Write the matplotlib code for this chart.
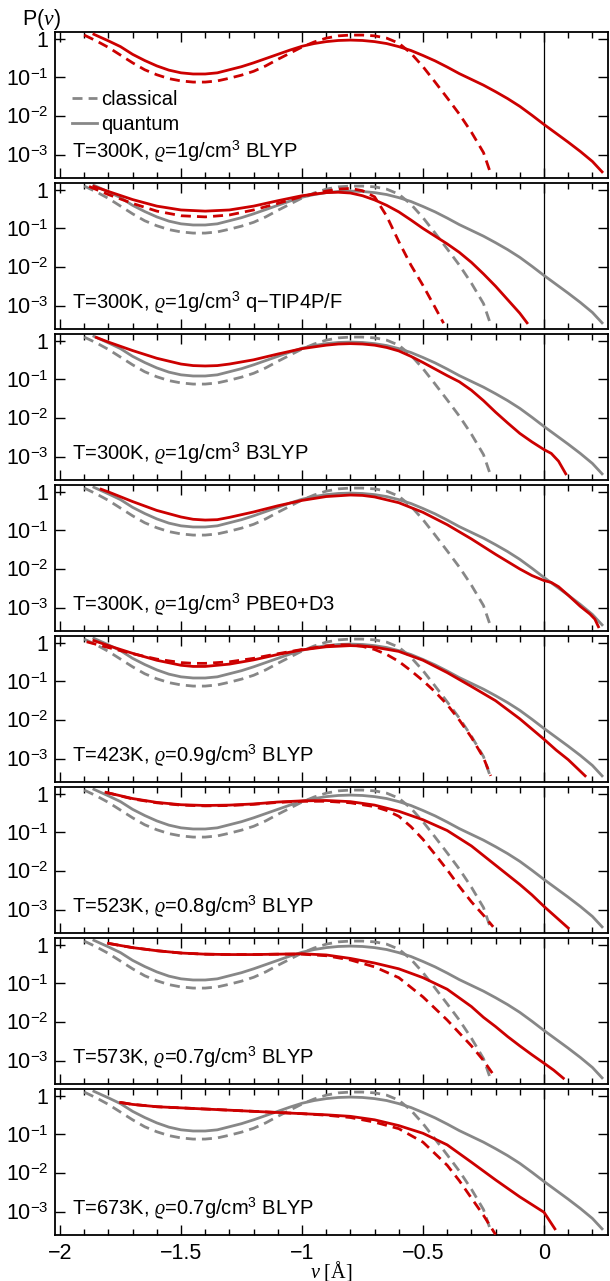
import matplotlib
matplotlib.use('Agg')
import matplotlib.pyplot as plt
import numpy as np
from matplotlib.lines import Line2D
from matplotlib.ticker import FixedLocator, LogLocator, NullFormatter, MultipleLocator, FuncFormatter

plt.rcParams['font.family'] = ['Liberation Sans', 'DejaVu Sans']
plt.rcParams['mathtext.fontset'] = 'custom'
plt.rcParams['mathtext.rm'] = 'Liberation Sans'
plt.rcParams['mathtext.it'] = 'Liberation Serif:italic'
plt.rcParams['mathtext.fallback'] = 'stix'

RED = '#cc0000'
GRAY = '#878787'

# all curves are log10 P(nu)

# BLYP 300K 1g/cm3: red in the top panel, gray reference below
x_q300 = [-1.86, -1.8, -1.75, -1.7, -1.65, -1.6, -1.55, -1.5, -1.45, -1.4, -1.35, -1.3, -1.25, -1.2, -1.15,
          -1.1, -1.05, -1.0, -0.95, -0.9, -0.85, -0.8, -0.75, -0.7, -0.65, -0.6, -0.55, -0.5, -0.45, -0.4,
          -0.35, -0.3, -0.25, -0.2, -0.15, -0.1, -0.05, 0.0, 0.05, 0.1, 0.15, 0.2, 0.24]
lg_q300 = [0.12, -0.05, -0.2, -0.4, -0.56, -0.7, -0.81, -0.88, -0.91, -0.91, -0.88, -0.8, -0.72, -0.62, -0.51,
           -0.4, -0.29, -0.19, -0.12, -0.07, -0.04, -0.03, -0.04, -0.07, -0.12, -0.2, -0.3, -0.43, -0.57, -0.73,
           -0.9, -1.05, -1.2, -1.37, -1.55, -1.75, -1.98, -2.22, -2.45, -2.68, -2.92, -3.18, -3.45]
x_c300 = [-1.9, -1.85, -1.8, -1.75, -1.7, -1.65, -1.6, -1.55, -1.5, -1.45, -1.4, -1.35, -1.3, -1.25, -1.2,
          -1.15, -1.1, -1.05, -1.0, -0.95, -0.9, -0.85, -0.8, -0.75, -0.7, -0.65, -0.6, -0.55, -0.5, -0.45,
          -0.4, -0.35, -0.3, -0.25, -0.22]
lg_c300 = [0.10, -0.05, -0.22, -0.42, -0.62, -0.80, -0.93, -1.03, -1.09, -1.12, -1.12, -1.09, -1.02, -0.94, -0.84,
           -0.70, -0.53, -0.37, -0.21, -0.08, 0.02, 0.08, 0.10, 0.10, 0.08, 0.02, -0.11, -0.37, -0.72, -1.12,
           -1.53, -1.95, -2.42, -2.95, -3.5]

# q-TIP4P/F
x_q_tip = [-1.86, -1.8, -1.7, -1.6, -1.5, -1.4, -1.3, -1.2, -1.1, -1.0, -0.9, -0.85, -0.8, -0.75, -0.7,
           -0.65, -0.6, -0.55, -0.5, -0.45, -0.4, -0.35, -0.3, -0.25, -0.2, -0.15, -0.1, -0.07]
lg_q_tip = [0.09, -0.04, -0.25, -0.42, -0.52, -0.55, -0.52, -0.42, -0.28, -0.15, -0.07, -0.06, -0.08, -0.15, -0.26,
            -0.40, -0.57, -0.78, -1.0, -1.2, -1.40, -1.62, -1.88, -2.18, -2.5, -2.85, -3.2, -3.45]
x_c_tip = [-1.88, -1.8, -1.7, -1.6, -1.5, -1.4, -1.3, -1.2, -1.1, -1.0, -0.9, -0.85, -0.8, -0.75, -0.7,
           -0.65, -0.6, -0.55, -0.5, -0.45, -0.415]
lg_c_tip = [0.09, -0.12, -0.35, -0.55, -0.67, -0.70, -0.65, -0.52, -0.35, -0.17, -0.03, 0.02, 0.04, -0.02, -0.18,
            -0.68, -1.34, -1.95, -2.48, -3.05, -3.46]

# B3LYP
x_q_b3 = [-1.85, -1.8, -1.7, -1.6, -1.5, -1.45, -1.4, -1.35, -1.3, -1.2, -1.1, -1.0, -0.9, -0.85, -0.8,
          -0.75, -0.7, -0.65, -0.6, -0.55, -0.5, -0.45, -0.4, -0.35, -0.3, -0.25, -0.2, -0.15, -0.1, -0.05,
          0.0, 0.03, 0.06, 0.09]
lg_q_b3 = [0.09, -0.03, -0.25, -0.45, -0.6, -0.64, -0.65, -0.64, -0.6, -0.49, -0.34, -0.2, -0.11, -0.08, -0.07,
           -0.08, -0.11, -0.17, -0.26, -0.40, -0.56, -0.73, -0.90, -1.06, -1.28, -1.55, -1.85, -2.13, -2.40, -2.62,
           -2.82, -2.92, -3.12, -3.45]

# PBE0+D3
x_q_pbe = [-1.83, -1.8, -1.7, -1.6, -1.5, -1.45, -1.4, -1.35, -1.3, -1.2, -1.1, -1.0, -0.9, -0.8, -0.75,
           -0.7, -0.6, -0.5, -0.4, -0.3, -0.2, -0.1, -0.05, 0.0, 0.03, 0.06, 0.1, 0.15, 0.19, 0.21, 0.225]
lg_q_pbe = [0.07, 0.0, -0.25, -0.48, -0.65, -0.71, -0.73, -0.72, -0.66, -0.52, -0.36, -0.22, -0.12, -0.08, -0.09,
            -0.13, -0.28, -0.53, -0.85, -1.22, -1.62, -2.0, -2.17, -2.3, -2.35, -2.46, -2.68, -2.97, -3.17, -3.3, -3.5]

# 423K
x_q423 = [-1.86, -1.8, -1.7, -1.6, -1.5, -1.45, -1.4, -1.3, -1.2, -1.1, -1.0, -0.9, -0.8, -0.75, -0.7,
          -0.6, -0.5, -0.4, -0.3, -0.2, -0.1, 0.0, 0.05, 0.1, 0.17]
lg_q423 = [0.06, -0.07, -0.27, -0.45, -0.58, -0.61, -0.61, -0.55, -0.44, -0.30, -0.18, -0.10, -0.07, -0.08, -0.11,
           -0.22, -0.45, -0.77, -1.13, -1.5, -1.97, -2.5, -2.78, -3.03, -3.45]
x_c423 = [-1.89, -1.8, -1.7, -1.6, -1.5, -1.45, -1.4, -1.3, -1.2, -1.1, -1.0, -0.9, -0.85, -0.8, -0.75,
          -0.7, -0.65, -0.6, -0.55, -0.5, -0.45, -0.4, -0.35, -0.3, -0.25, -0.22]
lg_c423 = [0.03, -0.12, -0.28, -0.42, -0.51, -0.53, -0.53, -0.49, -0.40, -0.28, -0.17, -0.08, -0.05, -0.05, -0.09,
           -0.17, -0.30, -0.48, -0.72, -0.98, -1.27, -1.6, -2.0, -2.45, -2.98, -3.45]

# 523K
x_q523 = [-1.81, -1.7, -1.6, -1.5, -1.4, -1.3, -1.2, -1.1, -1.0, -0.9, -0.8, -0.7, -0.6, -0.5, -0.4,
          -0.3, -0.25, -0.2, -0.15, -0.1, -0.05, 0.0, 0.05, 0.1]
lg_q523 = [0.04, -0.12, -0.22, -0.28, -0.30, -0.29, -0.26, -0.21, -0.18, -0.17, -0.20, -0.29, -0.45, -0.67, -0.95,
           -1.35, -1.6, -1.85, -2.1, -2.35, -2.62, -2.92, -3.2, -3.48]
x_c523 = [-1.81, -1.7, -1.6, -1.5, -1.4, -1.3, -1.2, -1.1, -1.0, -0.9, -0.8, -0.7, -0.65, -0.6, -0.55,
          -0.5, -0.45, -0.4, -0.35, -0.3, -0.25, -0.21]
lg_c523 = [0.04, -0.13, -0.23, -0.29, -0.31, -0.30, -0.27, -0.22, -0.19, -0.19, -0.23, -0.33, -0.43, -0.58, -0.85,
           -1.18, -1.57, -1.97, -2.4, -2.8, -3.15, -3.45]

# 573K
x_q573 = [-1.8, -1.7, -1.6, -1.5, -1.4, -1.3, -1.2, -1.1, -1.0, -0.9, -0.8, -0.7, -0.6, -0.5, -0.4,
          -0.3, -0.25, -0.2, -0.15, -0.1, -0.05, 0.0, 0.04, 0.08]
lg_q573 = [0.04, -0.07, -0.15, -0.21, -0.24, -0.25, -0.25, -0.24, -0.23, -0.26, -0.35, -0.47, -0.62, -0.85, -1.15,
           -1.6, -1.88, -2.12, -2.38, -2.62, -2.85, -3.07, -3.25, -3.46]
x_c573 = [-1.8, -1.7, -1.6, -1.5, -1.4, -1.3, -1.2, -1.1, -1.0, -0.9, -0.8, -0.7, -0.6, -0.5, -0.4,
          -0.3, -0.25, -0.2]
lg_c573 = [0.04, -0.07, -0.15, -0.21, -0.24, -0.25, -0.25, -0.24, -0.24, -0.28, -0.39, -0.57, -0.85, -1.35, -1.95,
           -2.62, -3.0, -3.45]

# 673K
x_q673 = [-1.75, -1.7, -1.6, -1.5, -1.4, -1.3, -1.2, -1.1, -1.0, -0.9, -0.8, -0.7, -0.6, -0.5, -0.4,
          -0.3, -0.2, -0.1, 0.0, 0.045]
lg_q673 = [-0.17, -0.22, -0.28, -0.31, -0.34, -0.37, -0.40, -0.43, -0.46, -0.49, -0.53, -0.62, -0.77, -0.97, -1.27,
           -1.72, -2.18, -2.62, -3.02, -3.45]
x_c673 = [-1.75, -1.7, -1.6, -1.5, -1.4, -1.3, -1.2, -1.1, -1.0, -0.9, -0.8, -0.7, -0.6, -0.5, -0.4,
          -0.35, -0.3, -0.25, -0.2]
lg_c673 = [-0.17, -0.22, -0.28, -0.31, -0.34, -0.37, -0.40, -0.43, -0.46, -0.50, -0.56, -0.68, -0.85, -1.2, -1.8,
           -2.2, -2.65, -3.1, -3.6]

labels = [
    'T=300K, $\\varrho$=1g/cm$^3$ BLYP',
    'T=300K, $\\varrho$=1g/cm$^3$ q\u2212TIP4P/F',
    'T=300K, $\\varrho$=1g/cm$^3$ B3LYP',
    'T=300K, $\\varrho$=1g/cm$^3$ PBE0+D3',
    'T=423K, $\\varrho$=0.9g/cm$^3$ BLYP',
    'T=523K, $\\varrho$=0.8g/cm$^3$ BLYP',
    'T=573K, $\\varrho$=0.7g/cm$^3$ BLYP',
    'T=673K, $\\varrho$=0.7g/cm$^3$ BLYP',
]
quantum = [(x_q300, lg_q300), (x_q_tip, lg_q_tip), (x_q_b3, lg_q_b3), (x_q_pbe, lg_q_pbe),
           (x_q423, lg_q423), (x_q523, lg_q523), (x_q573, lg_q573), (x_q673, lg_q673)]
classical = [(x_c300, lg_c300), (x_c_tip, lg_c_tip), None, None,
             (x_c423, lg_c423), (x_c523, lg_c523), (x_c573, lg_c573), (x_c673, lg_c673)]

xticks = [-2, -1.5, -1, -0.5, 0]
yticks = [1e-3, 1e-2, 1e-1, 1]
ytick_labels = ['$10^{-3}$', '$10^{-2}$', '$10^{-1}$', '1']

W, H = 610, 1281
fig = plt.figure(figsize=(W / 100, H / 100), dpi=100)

DASH = (0, (3.6, 2.2))
FS = 14.5      # panel texts, legend
TFS = 15.5     # tick labels

for k in range(8):
    top = 32 + 151 * k
    ax = fig.add_axes([55 / W, 1 - (top + 146) / H, 553 / W, 146 / H])
    ax.set_yscale('log')

    if k > 0:
        ax.plot(x_c300, 10 ** np.array(lg_c300), color=GRAY, lw=2, ls=DASH, zorder=2)
        ax.plot(x_q300, 10 ** np.array(lg_q300), color=GRAY, lw=2, zorder=2)
    if classical[k] is not None:
        xc, lc = classical[k]
        ax.plot(xc, 10 ** np.array(lc), color=RED, lw=2, ls=DASH, zorder=3)
    xq, lq = quantum[k]
    ax.plot(xq, 10 ** np.array(lq), color=RED, lw=2, zorder=3)

    ax.axvline(0, color='black', lw=0.9, zorder=1)

    ax.set_xlim(-2.0207, 0.2645)
    ax.set_ylim(10 ** -3.61, 10 ** 0.18)

    ax.xaxis.set_major_locator(FixedLocator(xticks))
    ax.xaxis.set_minor_locator(MultipleLocator(0.1))
    ax.yaxis.set_major_locator(FixedLocator(yticks))
    ax.yaxis.set_minor_locator(LogLocator(base=10, subs=np.arange(2, 10)))
    ax.yaxis.set_minor_formatter(NullFormatter())
    ax.set_yticklabels(ytick_labels)
    ax.tick_params(which='both', direction='in', top=True, right=True, width=1.0, labelsize=TFS)
    ax.tick_params(which='major', length=7)
    ax.tick_params(which='minor', length=4)
    ax.tick_params(axis='y', pad=5)
    ax.tick_params(axis='x', pad=6)
    for s in ax.spines.values():
        s.set_linewidth(1.3)

    if k < 7:
        ax.tick_params(labelbottom=False)
    else:
        ax.xaxis.set_major_formatter(FuncFormatter(lambda v, _: f'{v:g}'.replace('-', '\u2212')))
        ax.set_xlabel('$\\nu$ [Å]', fontsize=FS, family='Liberation Serif', labelpad=-4)

    ax.text(0.030, 8e-4, labels[k], transform=ax.get_yaxis_transform(), fontsize=FS,
            ha='left', va='baseline', zorder=5)

    if k == 0:
        handles = [Line2D([], [], color=GRAY, lw=2, ls=DASH), Line2D([], [], color=GRAY, lw=2)]
        ax.legend(handles, ['classical', 'quantum'], loc='upper left', bbox_to_anchor=(0.030, 0.605),
                  frameon=False, fontsize=FS, handlelength=1.24, handletextpad=0.25,
                  labelspacing=0.3, borderpad=0, borderaxespad=0)

fig.text(22 / W, 1 - 20 / H, 'P$(\\nu)$', fontsize=TFS, ha='left', va='center')

fig.savefig('out.png', dpi=100)
